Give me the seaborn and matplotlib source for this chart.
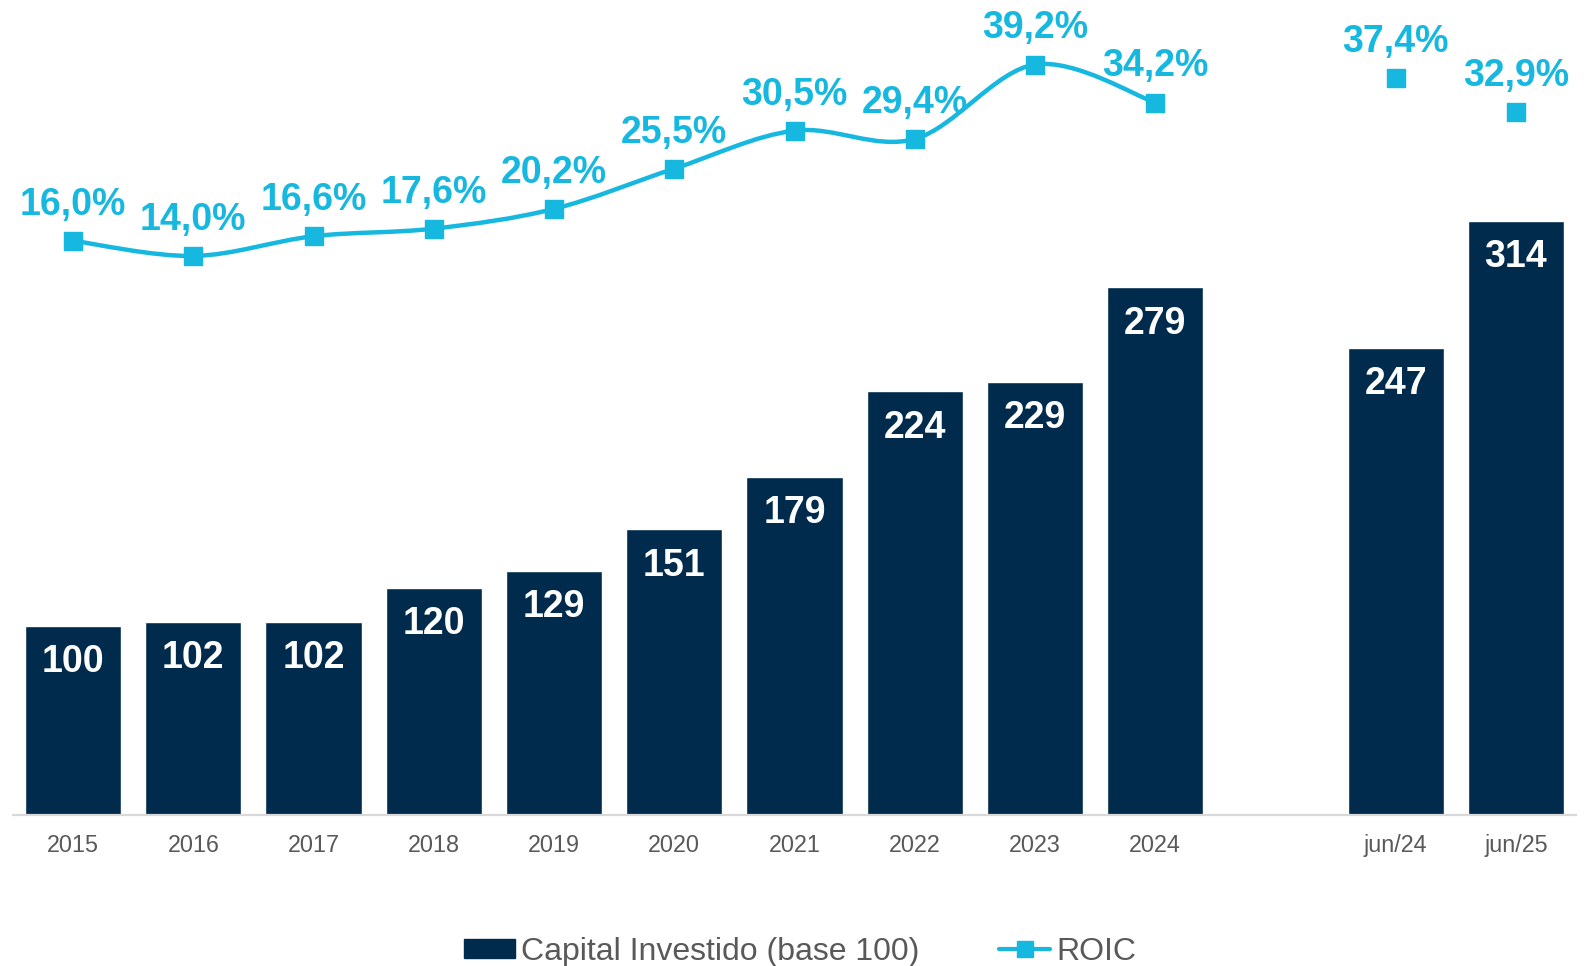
import matplotlib
matplotlib.use("Agg")
import matplotlib.pyplot as plt
from matplotlib.path import Path
from matplotlib.patches import PathPatch, Patch
from matplotlib.lines import Line2D
import numpy as np
import seaborn as sns

# data
periods = ["2015", "2016", "2017", "2018", "2019", "2020", "2021", "2022", "2023", "2024", "jun/24", "jun/25"]
capital = [100, 102, 102, 120, 129, 151, 179, 224, 229, 279, 247, 314]
roic = [16.0, 14.0, 16.6, 17.6, 20.2, 25.5, 30.5, 29.4, 39.2, 34.2, 37.4, 32.9]
annual = periods[:10]
order = periods[:10] + [" "] + periods[10:]

navy = "#002B4D"
cyan = "#17B8E0"
gray = "#595959"

sns.set_style("white")
plt.rcParams["font.family"] = ["Liberation Sans", "DejaVu Sans"]

fig = plt.figure(figsize=(15.86, 9.66), dpi=100)
ax = fig.add_axes([13 / 1586, 151 / 966, 1563 / 1586, 815 / 966])

sns.barplot(x=periods, y=capital, order=order, color=navy, saturation=1,
            width=0.8, ax=ax)
ax.set_ylim(0, 431)
ax.set_xlim(-0.5, 12.5)
ax.set_ylabel("")
ax.set_yticks([])
ax.tick_params(axis="x", length=0, pad=14, labelsize=16.8, labelcolor=gray)
for s in ["top", "left", "right"]:
    ax.spines[s].set_visible(False)
ax.spines["bottom"].set_color("#D9D9D9")
ax.spines["bottom"].set_linewidth(1.6)

# value labels inside bars
for p, v in zip(periods, capital):
    ax.annotate(str(v), (order.index(p), v), xytext=(0, -26), textcoords="offset points",
                ha="center", va="center", color="white", fontsize=27, fontweight="bold")

# ROIC on a hidden second axis
ax2 = ax.twinx()
ax2.set_ylim(-59.6, 47.7)
ax2.set_yticks([])
for s in ax2.spines.values():
    s.set_visible(False)

xs = np.array([order.index(p) for p in periods], dtype=float)
ys = np.array(roic)

# smoothed line through the annual points (Excel style)
n = len(annual)
px, py = xs[:n], ys[:n]
verts = [(px[0], py[0])]
codes = [Path.MOVETO]
for i in range(n - 1):
    i0 = max(i - 1, 0)
    i3 = min(i + 2, n - 1)
    c1 = (px[i] + (px[i + 1] - px[i0]) / 6, py[i] + (py[i + 1] - py[i0]) / 6)
    c2 = (px[i + 1] - (px[i3] - px[i]) / 6, py[i + 1] - (py[i3] - py[i]) / 6)
    verts += [c1, c2, (px[i + 1], py[i + 1])]
    codes += [Path.CURVE4] * 3
ax2.add_patch(PathPatch(Path(verts, codes), fill=False, edgecolor=cyan, lw=3.2,
                        transform=ax2.transData, zorder=3))

sns.scatterplot(x=xs, y=ys, marker="s", s=150, color=cyan, edgecolor=cyan,
                linewidth=1, ax=ax2, zorder=4)

for x, y in zip(xs, ys):
    ax2.annotate(f"{y:.1f}%".replace(".", ","), (x, y), xytext=(0, 26),
                 textcoords="offset points", ha="center", va="center",
                 color=cyan, fontsize=27, fontweight="bold", zorder=5)

handles = [
    Patch(facecolor=navy, edgecolor=navy),
    Line2D([], [], color=cyan, lw=3, marker="s", markersize=12),
]
fig.legend(handles, ["Capital Investido (base 100)", "ROIC"], loc="center",
           bbox_to_anchor=(0.5045, 0.015), ncol=2, frameon=False, fontsize=23,
           labelcolor=gray, handlelength=1.6, handleheight=0.55,
           handletextpad=0.2, columnspacing=2.5)

fig.savefig("out.png", dpi=100)
